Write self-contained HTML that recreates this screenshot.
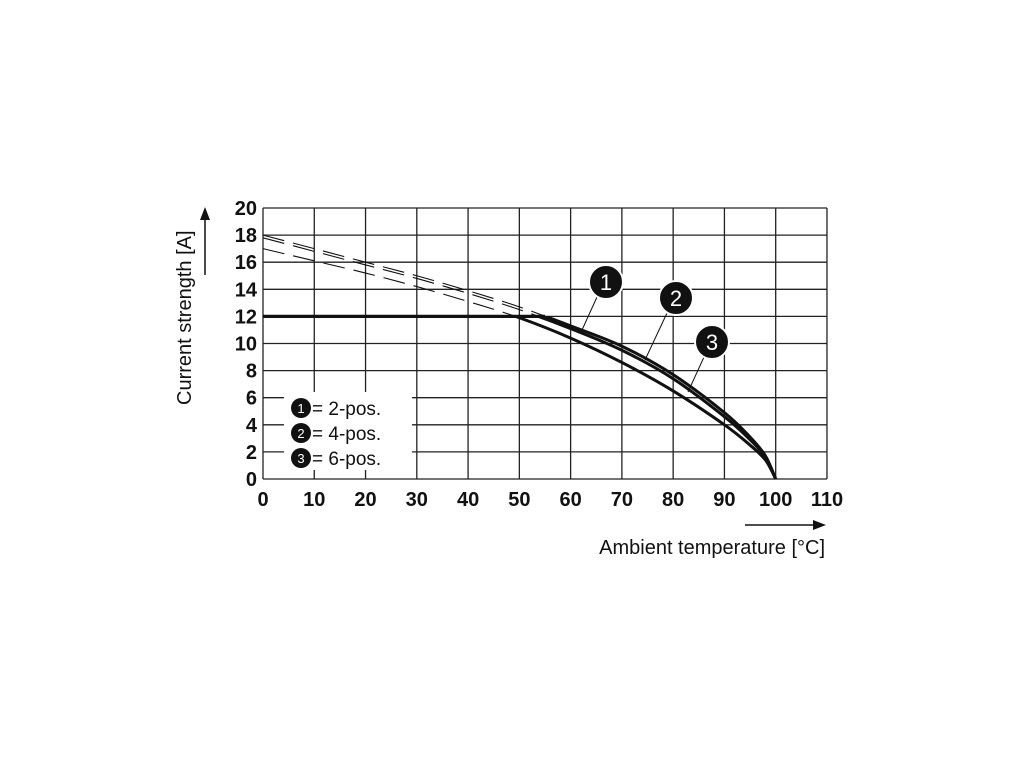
<!DOCTYPE html>
<html><head><meta charset="utf-8"><style>
body{margin:0;background:#fff;}
svg{display:block;font-family:"Liberation Sans",sans-serif;}
</style></head><body>
<svg id="chart" width="1020" height="765">
<defs>
<clipPath id="above"><rect x="0" y="0" width="1020" height="316"/></clipPath>
<clipPath id="below"><rect x="0" y="316" width="1020" height="450"/></clipPath>
</defs>
<g id="grid"></g>
<g id="curves"></g>
<g id="labels"></g>
<text x="0" y="0" transform="translate(191,405) rotate(-90)" font-size="20" fill="#111">Current strength [A]</text>
<line x1="205" y1="275" x2="205" y2="218" stroke="#111" stroke-width="1.5"/>
<polygon points="200,220 210,220 205,207" fill="#111"/>
<text x="825" y="554" text-anchor="end" font-size="20" fill="#111">Ambient temperature [°C]</text>
<line x1="745" y1="525" x2="815" y2="525" stroke="#111" stroke-width="1.5"/>
<polygon points="813,520 813,530 826,525" fill="#111"/>
<g>
<rect x="284" y="392" width="128" height="78" fill="#fff"/>
<circle cx="301" cy="408" r="10" fill="#111"/><text x="301" y="413" text-anchor="middle" font-size="13" fill="#fff">1</text>
<text x="312" y="415" font-size="19" fill="#111">= 2-pos.</text>
<circle cx="301" cy="433" r="10" fill="#111"/><text x="301" y="438" text-anchor="middle" font-size="13" fill="#fff">2</text>
<text x="312" y="440" font-size="19" fill="#111">= 4-pos.</text>
<circle cx="301" cy="458" r="10" fill="#111"/><text x="301" y="463" text-anchor="middle" font-size="13" fill="#fff">3</text>
<text x="312" y="465" font-size="19" fill="#111">= 6-pos.</text>
</g>
<g>
<line x1="597" y1="297" x2="582" y2="330" stroke="#111" stroke-width="1"/>
<line x1="667" y1="313" x2="645" y2="360" stroke="#111" stroke-width="1"/>
<line x1="704" y1="357" x2="688" y2="392" stroke="#111" stroke-width="1"/>
<circle cx="606" cy="282" r="17" fill="#111" stroke="#fff" stroke-width="2"/><text x="606" y="290" text-anchor="middle" font-size="22" fill="#fff">1</text>
<circle cx="676" cy="298" r="17" fill="#111" stroke="#fff" stroke-width="2"/><text x="676" y="306" text-anchor="middle" font-size="22" fill="#fff">2</text>
<circle cx="712" cy="342" r="17" fill="#111" stroke="#fff" stroke-width="2"/><text x="712" y="350" text-anchor="middle" font-size="22" fill="#fff">3</text>
</g>
</svg>
<script>
const temps = [0,10,20,30,40,50,60,70,80,90,95,98,100];
const pos2 = [18.0,17.0,16.0,15.0,13.9,12.7,11.3,9.8,7.7,4.9,3.1,1.7,0];
const pos4 = [17.8,16.8,15.8,14.8,13.7,12.5,11.1,9.5,7.4,4.6,2.9,1.6,0];
const pos6 = [17.0,16.1,15.2,14.2,13.1,11.9,10.4,8.6,6.5,4.0,2.5,1.4,0];
const xTicks = [0,10,20,30,40,50,60,70,80,90,100,110];
const yTicks = [0,2,4,6,8,10,12,14,16,18,20];
const limit = [12];
const NS="http://www.w3.org/2000/svg";
const X=t=>263+t*5.127, Y=v=>479-v*13.55;
function mk(tag,attrs,parent){const e=document.createElementNS(NS,tag);for(const k in attrs)e.setAttribute(k,attrs[k]);parent.appendChild(e);return e;}
const grid=document.getElementById('grid'),labels=document.getElementById('labels'),curves=document.getElementById('curves');
xTicks.forEach(t=>{
 const l=mk('line',{x1:X(t),x2:X(t),y1:Y(0),y2:Y(20),stroke:'#222','stroke-width':1.3},grid);
 
 
 const tx=mk('text',{x:X(t),y:506,'text-anchor':'middle','font-size':20,'font-weight':'bold',fill:'#111'},labels);
 tx.textContent=t;
 
 
});
yTicks.forEach(v=>{
 const l=mk('line',{x1:X(0),x2:X(110),y1:Y(v),y2:Y(v),stroke:'#222','stroke-width':1.3},grid);
 
 
 const tx=mk('text',{x:257,y:Y(v)+7,'text-anchor':'end','font-size':20,'font-weight':'bold',fill:'#111'},labels);
 tx.textContent=v;
 
 
});
function pathD(vals){
 const p=temps.map((t,i)=>[X(t),Y(vals[i])]);
 let d='M'+p[0][0]+','+p[0][1];
 for(let i=0;i<p.length-1;i++){
  const p0=p[i-1]||p[i],p1=p[i],p2=p[i+1],p3=p[i+2]||p2;
  const c1x=p1[0]+(p2[0]-p0[0])/6,c1y=p1[1]+(p2[1]-p0[1])/6;
  const c2x=p2[0]-(p3[0]-p1[0])/6,c2y=p2[1]-(p3[1]-p1[1])/6;
  d+=` C${c1x},${c1y} ${c2x},${c2y} ${p2[0]},${p2[1]}`;
 }
 return d;
}
const hl=mk('line',{x1:X(0),x2:X(55),y1:Y(limit[0]),y2:Y(limit[0]),stroke:'#111','stroke-width':3.2},curves);


[['pos2',pos2],['pos4',pos4],['pos6',pos6]].forEach(([n,vals])=>{
 const d=pathD(vals);
 const dash=mk('path',{d:d,fill:'none',stroke:'#111','stroke-width':1.1,'stroke-dasharray':'22 9','clip-path':'url(#above)'},curves);
 
 
 const s=mk('path',{d:d,fill:'none',stroke:'#111','stroke-width':3,'clip-path':'url(#below)'},curves);
 
 
});
</script>
</body></html>
